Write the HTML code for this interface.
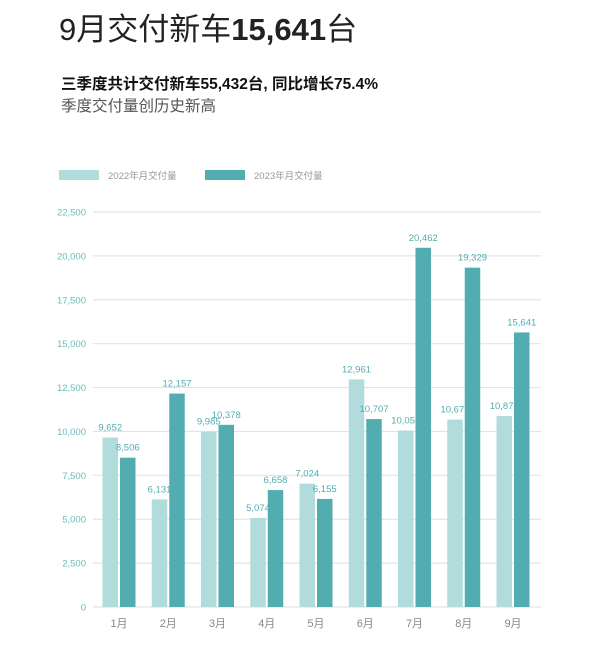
<!DOCTYPE html>
<html><head><meta charset="utf-8"><style>
body{margin:0;background:#fff;width:600px;height:650px;overflow:hidden;font-family:"Liberation Sans","Noto Sans CJK SC",sans-serif;}
.t1{position:absolute;left:59px;top:4px;font-size:31px;color:#222;white-space:nowrap;}
.t1 b{font-weight:bold;}
.t2{position:absolute;left:61px;top:72px;font-size:15.5px;font-weight:bold;color:#111;white-space:nowrap;}
.t3{position:absolute;left:61px;top:94px;font-size:15.5px;color:#555;white-space:nowrap;}
</style></head><body>
<div class="t1">9月交付新车<b>15,641</b>台</div>
<div class="t2">三季度共计交付新车55,432台, 同比增长75.4%</div>
<div class="t3">季度交付量创历史新高</div>
<svg id="chart" width="600" height="650" style="position:absolute;left:0;top:0"></svg>
<script>
const categories=["1月","2月","3月","4月","5月","6月","7月","8月","9月"];
const series2022=[9652,6131,9985,5074,7024,12961,10052,10677,10878];
const series2023=[8506,12157,10378,6658,6155,10707,20462,19329,15641];
const yTicks=[0,2500,5000,7500,10000,12500,15000,17500,20000,22500];
const yTickLabels=["0","2,500","5,000","7,500","10,000","12,500","15,000","17,500","20,000","22,500"];
const svg=document.getElementById('chart');
const NS='http://www.w3.org/2000/svg';
const y0=607,yTop=212,yMax=22500;
const y=v=>y0-(v/yMax)*(y0-yTop);
const xC=i=>119+49.25*i;
function mk(t,a){const e=document.createElementNS(NS,t);for(const k in a)e.setAttribute(k,a[k]);svg.appendChild(e);return e;}
yTicks.forEach((v,i)=>{
 const l=mk('line',{x1:93,x2:541,y1:y(v),y2:y(v),stroke:'#e4e4e4','stroke-width':1.2});
 
 
 const t=mk('text',{x:86,y:y(v)+3.5,'text-anchor':'end','font-size':9.5,fill:'#6bbcc0','font-family':'Liberation Sans, sans-serif'});
 t.textContent=yTickLabels[i];
 
 
});
categories.forEach((c,i)=>{
 const cx=xC(i);
 [[series2022,'#b2dbdc',cx-16.5],[series2023,'#52adb0',cx+1]].forEach(([s,col,x],k)=>{
  const r=mk('rect',{x:x,y:y(s[i]),width:15.5,height:y0-y(s[i]),fill:col});
  
  
  const t=mk('text',{x:x+7.75,y:y(s[i])-7,'text-anchor':'middle','font-size':9.5,fill:'#52adb0','font-family':'Liberation Sans, sans-serif'});
  t.textContent=s[i].toLocaleString('en-US');
  
  
 });
 const t=mk('text',{x:cx,y:627,'text-anchor':'middle','font-size':11,fill:'#888','font-family':'Liberation Sans, Noto Sans CJK SC, sans-serif'});
 t.textContent=c;
 
 
});
[[59,'#b2dbdc','2022年月交付量'],[205,'#52adb0','2023年月交付量']].forEach(([x,col,txt])=>{
 const r=mk('rect',{x:x,y:170,width:40,height:10,fill:col});
 
 
 const t=mk('text',{x:x+49,y:179,'font-size':9.5,fill:'#999','font-family':'Liberation Sans, Noto Sans CJK SC, sans-serif'});
 t.textContent=txt;
 
 
});
</script>
</body></html>
